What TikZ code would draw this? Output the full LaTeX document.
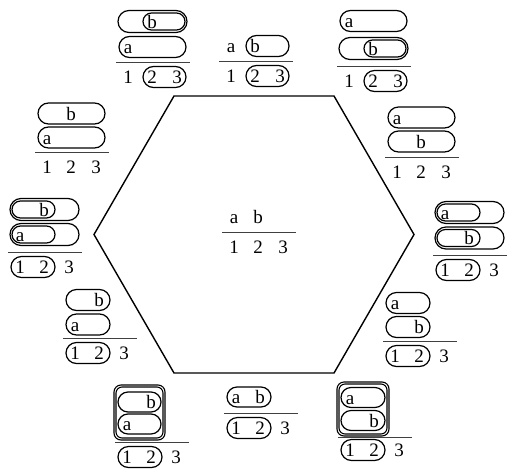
\documentclass[tikz,border=0pt]{standalone}
\usepackage{fontspec}
\setmainfont{Liberation Serif}
\tikzset{
  capline/.style={draw=black, line width=1.2pt},
  boxline/.style={draw=black, line width=1.1pt},
  fracline/.style={draw=black!75, line width=1pt},
  hexline/.style={draw=black, line width=1.4pt},
  lbl/.style={anchor=base, inner sep=0pt, font=\fontsize{19}{19}\selectfont},
}
% capsule: x1 x2 ycenter halfheight
\newcommand\Cap[4]{\draw[capline, rounded corners=#4pt] (#1,#3-#4) rectangle (#2,#3+#4);}
% text: name x ycenter text
\newcommand\Txt[4]{\path (#2,#3) ++(0,6.5) node[lbl] (#1) {#4};}
\newcommand\Frac[1]{\draw[fracline] (0,0) -- (74,0);}
\newcommand\Digits[2]{\Txt{#1d1}{12}{#2}{1}\Txt{#1d2}{36}{#2}{2}\Txt{#1d3}{61}{#2}{3}}
\begin{document}
\begin{tikzpicture}[x=1pt,y=-1pt]
\useasboundingbox (0,0) rectangle (511,469);
% hexagon
\draw[hexline] (174,96) -- (334,96) -- (414,234.5) -- (334,373) -- (174,373) -- (94,234.5) -- cycle;

% center
\begin{scope}[shift={(222,232)}]
\Txt{ca}{12}{-15}{a}\Txt{cb}{36}{-15}{b}
\Frac{}
\Digits{c}{15}
\end{scope}

% top centre
\begin{scope}[shift={(219,61)}]
\Cap{27}{70}{-15}{10.5}
\Txt{tca}{12}{-15}{a}\Txt{tcb}{36}{-15}{b}
\Frac{}
\Cap{27}{70}{15}{10.5}
\Digits{tc}{15}
\end{scope}

% top left
\begin{scope}[shift={(116,62)}]
\Cap{3}{70}{-15}{10.5}\Txt{tla}{12}{-15}{a}
\Cap{2}{71}{-40.5}{11}\Cap{27}{69}{-40.5}{8.5}\Txt{tlb}{36}{-40.5}{b}
\Frac{}
\Cap{27}{70}{15}{10.5}
\Digits{tl}{15}
\end{scope}

% top right
\begin{scope}[shift={(337,66)}]
\Cap{2}{71}{-17.5}{11}\Cap{27}{69}{-17.5}{8.5}\Txt{trb}{36}{-17.5}{b}
\Cap{3}{70}{-45}{10.5}\Txt{tra}{12}{-45}{a}
\Frac{}
\Cap{27}{70}{15}{10.5}
\Digits{tr}{15}
\end{scope}

% left
\begin{scope}[shift={(35,152)}]
\Cap{3}{70}{-14.5}{10.5}\Txt{la}{12}{-14.5}{a}
\Cap{3}{70}{-38.5}{10.5}\Txt{lb}{36}{-38.5}{b}
\Frac{}
\Digits{l}{15}
\end{scope}

% right
\begin{scope}[shift={(385,157)}]
\Cap{3}{70}{-15.5}{10.5}\Txt{rb}{36}{-15.5}{b}
\Cap{3}{70}{-39.5}{10.5}\Txt{ra}{12}{-39.5}{a}
\Frac{}
\Digits{r}{15}
\end{scope}

% mid left
\begin{scope}[shift={(8,252)}]
\Cap{2}{71}{-17.5}{11}\Cap{4}{47}{-17.5}{8.5}\Txt{mla}{12}{-17.5}{a}
\Cap{2}{71}{-42.5}{11}\Cap{4}{47}{-42.5}{8.5}\Txt{mlb}{36}{-42.5}{b}
\Frac{}
\Cap{3}{47}{15}{10.5}
\Digits{ml}{15}
\end{scope}

% mid right
\begin{scope}[shift={(433,255)}]
\Cap{2}{71}{-17}{11}\Cap{4}{47}{-17}{8.5}\Txt{mrb}{36}{-17}{b}
\Cap{2}{71}{-42.5}{11}\Cap{4}{47}{-42.5}{8.5}\Txt{mra}{12}{-42.5}{a}
\Frac{}
\Cap{3}{47}{15}{10.5}
\Digits{mr}{15}
\end{scope}

% lower left
\begin{scope}[shift={(63,338)}]
\Cap{3}{47}{-13.5}{10.5}\Txt{lla}{12}{-13.5}{a}
\Cap{3}{47}{-38}{10.5}\Txt{llb}{36}{-38}{b}
\Frac{}
\Cap{3}{47}{15}{10.5}
\Digits{ll}{15}
\end{scope}

% lower right
\begin{scope}[shift={(383,341)}]
\Cap{3}{47}{-14}{10.5}\Txt{lrb}{36}{-14}{b}
\Cap{3}{47}{-38}{10.5}\Txt{lra}{12}{-38}{a}
\Frac{}
\Cap{3}{47}{15}{10.5}
\Digits{lr}{15}
\end{scope}

% bottom left
\begin{scope}[shift={(115,442)}]
\draw[boxline, rounded corners=7pt] (-1,-57) rectangle (50,-2);
\draw[boxline, rounded corners=6pt] (1,-55) rectangle (48,-4);
\Cap{3}{46}{-18}{10}\Txt{bla}{12}{-18}{a}
\Cap{3}{46}{-40}{10}\Txt{blb}{36}{-40}{b}
\Frac{}
\Cap{3}{47}{15}{10.5}
\Digits{bl}{15}
\end{scope}

% bottom centre
\begin{scope}[shift={(224,413)}]
\Cap{3}{47}{-16}{10}\Txt{bca}{12}{-16}{a}\Txt{bcb}{36}{-16}{b}
\Frac{}
\Cap{3}{47}{15}{10.5}
\Digits{bc}{15}
\end{scope}

% bottom right
\begin{scope}[shift={(338,437)}]
\draw[boxline, rounded corners=7pt] (-1,-55) rectangle (51,-1);
\draw[boxline, rounded corners=6pt] (1,-53) rectangle (49,-3);
\Cap{3}{47}{-16.5}{10}\Txt{brb}{36}{-16.5}{b}
\Cap{3}{47}{-39.5}{10}\Txt{bra}{12}{-39.5}{a}
\Frac{}
\Cap{3}{47}{13}{10.5}
\Digits{br}{13}
\end{scope}
\end{tikzpicture}
\end{document}
